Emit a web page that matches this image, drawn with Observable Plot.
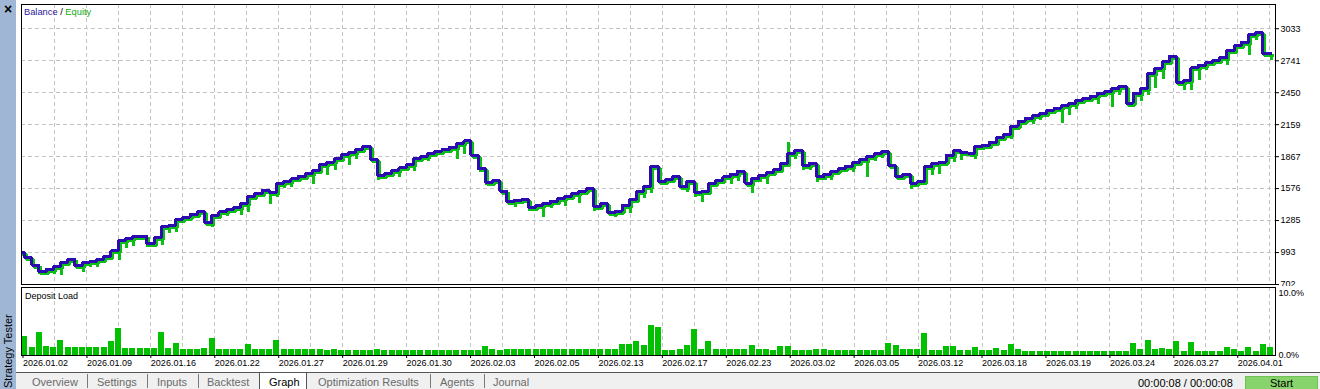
<!DOCTYPE html>
<html>
<head>
<meta charset="utf-8">
<script src="https://cdn.jsdelivr.net/npm/d3@7"></script>
<script src="https://cdn.jsdelivr.net/npm/@observablehq/plot@0.6"></script>
<style>
  html, body { margin: 0; padding: 0; }
  body { width: 1320px; height: 389px; overflow: hidden; background: #fff; position: relative;
         font-family: "Liberation Sans", Arial, sans-serif; color: #000; }
  #side { position: absolute; left: 0; top: 0; width: 16px; height: 389px; background: #9fb7d5; z-index: 10; overflow: hidden; }
  #close { position: absolute; left: 1px; top: 0px; width: 14px; text-align: center; font-size: 14px; font-weight: bold; line-height: 18px; }
  #st { position: absolute; left: 2px; top: 388px; transform-origin: 0 0; transform: rotate(-90deg);
        font-size: 11px; white-space: nowrap; line-height: 12px; }
  #main { position: absolute; left: 0; top: 0; }
  #dep { position: absolute; left: 0; top: 286px; }
  #legend { position: absolute; left: 24px; top: 6px; font-size: 9.3px; line-height: 12px; white-space: nowrap; }
  #deplabel { position: absolute; left: 25px; top: 290px; font-size: 9px; line-height: 12px; }
  #tabs { position: absolute; left: 16px; top: 372px; width: 1304px; height: 17px; background: #f0f0f0;
          border-top: 1px solid #555; box-sizing: border-box; }
  .t { position: absolute; top: 2px; font-size: 11px; color: #6a6a6a; white-space: nowrap; line-height: 14px; }
  .sep { position: absolute; top: 1px; width: 1px; height: 14px; background: #7a7a7a; }
  #graphTab { position: absolute; left: 243px; top: -1px; width: 48px; height: 17px; background: #fff;
              border-left: 1px solid #555; border-right: 1px solid #555; border-top: 1px solid #555; box-sizing: border-box; }
  #graphTab span { position: absolute; left: 9px; top: 2px; font-size: 11px; color: #000; line-height: 14px; }
  #timer { position: absolute; left: 1122px; top: 3px; font-size: 11px; color: #000; white-space: nowrap; line-height: 14px; }
  #start { position: absolute; left: 1229px; top: 3px; width: 73px; height: 14px; background: #88d46c;
           border: 1px solid #70c056; box-sizing: border-box; text-align: center; font-size: 11px; line-height: 13px; }
</style>
</head>
<body>
<div id="side"><div id="close">×</div><div id="st">Strategy Tester</div></div>
<div id="main"></div>
<div id="dep"></div>
<div id="legend"><span style="color:#2a169c">Balance</span> / <span style="color:#10a810">Equity</span></div>
<div id="deplabel">Deposit Load</div>
<div id="tabs">
  <span class="t" style="left:16px">Overview</span>
  <div class="sep" style="left:71px"></div>
  <span class="t" style="left:81px">Settings</span>
  <div class="sep" style="left:131px"></div>
  <span class="t" style="left:141px">Inputs</span>
  <div class="sep" style="left:182px"></div>
  <span class="t" style="left:191px">Backtest</span>
  <div id="graphTab"><span>Graph</span></div>
  <span class="t" style="left:302px">Optimization Results</span>
  <div class="sep" style="left:414px"></div>
  <span class="t" style="left:424px">Agents</span>
  <div class="sep" style="left:468px"></div>
  <span class="t" style="left:477px">Journal</span>
  <span id="timer">00:00:08 / 00:00:08</span>
  <div id="start">Start</div>
</div>
<script>
// ---- data ----
const balance = [
  993, 944, 878, 820, 841, 862, 902, 932, 871, 899,
  914, 932, 957, 1008, 1099, 1117, 1142, 1142, 1075, 1130,
  1227, 1242, 1297, 1315, 1342, 1363, 1263, 1333, 1363, 1385,
  1403, 1440, 1506, 1531, 1561, 1545, 1622, 1643, 1667, 1688,
  1713, 1743, 1797, 1818, 1849, 1886, 1909, 1934, 1964, 1843,
  1697, 1718, 1743, 1767, 1795, 1849, 1870, 1895, 1916, 1934,
  1955, 1986, 2010, 1879, 1758, 1636, 1652, 1554, 1454, 1470,
  1476, 1403, 1424, 1440, 1461, 1485, 1506, 1531, 1554, 1576,
  1415, 1440, 1354, 1370, 1424, 1479, 1552, 1597, 1782, 1643,
  1661, 1688, 1591, 1643, 1540, 1552, 1627, 1652, 1682, 1706,
  1736, 1627, 1667, 1697, 1722, 1749, 1804, 1900, 1925, 1788,
  1809, 1682, 1706, 1734, 1758, 1782, 1813, 1840, 1870, 1895,
  1916, 1788, 1688, 1706, 1627, 1643, 1773, 1804, 1818, 1879,
  1919, 1905, 1900, 1960, 1970, 2000, 2046, 2071, 2143, 2192,
  2219, 2244, 2265, 2289, 2310, 2335, 2356, 2380, 2398, 2419,
  2447, 2462, 2487, 2508, 2356, 2447, 2487, 2629, 2674, 2735,
  2783, 2547, 2562, 2678, 2699, 2723, 2744, 2769, 2835, 2881,
  2911, 2981, 2997, 2805
];
// [trade index, equity extreme during that trade]
const equityDips = [
  [2, 811], [4, 808], [5, 802], [8, 832], [9, 878], [10, 878], [13, 939], [14, 1044],
  [15, 1066], [17, 1060], [19, 1075], [20, 1181], [21, 1196], [26, 1242], [28, 1342],
  [30, 1349], [31, 1372], [34, 1445], [35, 1515], [36, 1591], [37, 1606], [40, 1636],
  [42, 1713], [43, 1755], [45, 1804], [46, 1858], [49, 1667], [52, 1697], [54, 1750],
  [56, 1840], [60, 1860], [61, 1909], [63, 1833], [64, 1622], [66, 1606], [68, 1424],
  [70, 1388], [72, 1333], [73, 1409], [75, 1430], [77, 1454], [79, 1388], [82, 1333],
  [84, 1370], [86, 1500], [87, 1552], [92, 1561], [93, 1515], [94, 1464], [98, 1636],
  [99, 1658], [101, 1554], [103, 1636], [106, 2016], [107, 1864], [108, 1758], [109, 1758],
  [110, 1652], [112, 1667], [115, 1743], [117, 1697], [118, 1840], [119, 1870], [122, 1667],
  [123, 1585], [126, 1718], [127, 1727], [129, 1834], [130, 1849], [132, 1858], [137, 2046],
  [140, 2183], [141, 2213], [144, 2192], [145, 2259], [146, 2314], [149, 2365], [151, 2335],
  [152, 2447], [155, 2386], [156, 2441], [157, 2508], [158, 2587], [161, 2487], [162, 2492],
  [163, 2578], [164, 2669], [167, 2720], [170, 2811], [171, 2942], [173, 2760]
];
const depositLoad = [
  3.1, 1.3, 3.7, 1.4, 1.3, 2.5, 1.3, 1.3, 1.3, 1.3,
  1.3, 1.3, 2.3, 4.3, 1.1, 1.1, 1.1, 1.1, 1.1, 3.7,
  1.1, 1.9, 1.0, 1.0, 1.0, 1.1, 2.7, 1.0, 1.0, 1.0,
  1.0, 1.8, 1.0, 1.0, 1.0, 2.4, 1.0, 1.0, 1.0, 1.0,
  1.0, 0.9, 0.8, 0.9, 0.8, 0.8, 0.8, 0.8, 0.8, 0.9,
  0.8, 0.8, 0.8, 0.8, 0.8, 0.8, 0.8, 0.8, 0.8, 0.8,
  0.8, 0.8, 0.8, 0.8, 1.5, 0.9, 0.8, 1.0, 1.0, 1.0,
  1.0, 1.0, 1.0, 1.0, 1.0, 1.0, 1.0, 1.0, 1.0, 1.0,
  1.0, 1.0, 1.0, 1.8, 1.8, 2.3, 1.6, 4.9, 4.5, 0.8,
  0.8, 0.9, 1.6, 4.2, 1.0, 2.3, 1.0, 1.0, 1.0, 0.9,
  0.9, 1.6, 1.0, 1.0, 0.8, 1.4, 1.4, 0.8, 0.8, 0.8,
  0.9, 1.0, 0.8, 0.8, 0.8, 0.8, 0.8, 0.8, 0.8, 0.8,
  2.0, 1.6, 1.0, 1.0, 1.0, 3.5, 0.8, 0.8, 1.4, 1.4,
  0.8, 0.8, 1.3, 0.8, 0.8, 1.1, 0.8, 1.8, 1.0, 0.65,
  0.65, 0.65, 0.65, 0.65, 0.65, 0.65, 0.65, 0.65, 0.65, 0.65,
  0.65, 0.65, 0.65, 0.65, 1.9, 1.0, 2.5, 1.0, 1.1, 1.0,
  2.3, 0.65, 2.1, 0.65, 0.65, 0.65, 0.65, 1.3, 1.0, 0.65,
  1.3, 0.65, 1.7, 1.3
];
const yTicks = [702, 993, 1285, 1576, 1867, 2159, 2450, 2741, 3033];
const depositTicks = [0, 10];
const dateLabels = [
  "2026.01.02", "2026.01.09", "2026.01.16", "2026.01.22", "2026.01.27",
  "2026.01.29", "2026.01.30", "2026.02.03", "2026.02.05", "2026.02.13",
  "2026.02.17", "2026.02.23", "2026.03.02", "2026.03.05", "2026.03.12",
  "2026.03.18", "2026.03.19", "2026.03.24", "2026.03.27", "2026.04.01"
];

// ---- layout constants ----
const BLUE = "#2c0cb0", GREEN = "#0cbf14", BAR = "#00c000", GRID = "#c4c4c4";
const FONT = "Liberation Sans, Arial, sans-serif";
const xDomain = [0.583, 174.75];       // trade index visible range
const gridStart = 0.79, gridStep = 4.44; // trades per grid division
const gridPositions = d3.range(1, 40).map(m => gridStart + gridStep * m);
const labelPositions = dateLabels.map((_, n) => gridStart + gridStep * 2 * n);
const labelMap = new Map(labelPositions.map((p, n) => [p, dateLabels[n]]));

const balPts = balance.map((v, i) => ({i, v}));
balPts.push({i: balance.length, v: balance[balance.length - 1]});

const main = Plot.plot({
  width: 1320, height: 286,
  marginLeft: 21, marginRight: 45, marginTop: 4, marginBottom: 2,
  style: {fontFamily: FONT, fontSize: "9px", background: "transparent", overflow: "visible", color: "#000"},
  x: {domain: xDomain, axis: null},
  y: {domain: [702, 3254], axis: null},
  marks: [
    Plot.gridY(yTicks.slice(1), {stroke: GRID, strokeOpacity: 1, strokeDasharray: "4,3", shapeRendering: "crispEdges"}),
    Plot.gridX(gridPositions, {stroke: GRID, strokeOpacity: 1, strokeDasharray: "4,3", shapeRendering: "crispEdges"}),
    Plot.line(balPts, {x: "i", y: "v", curve: "step-after", stroke: GREEN, strokeWidth: 3,
      strokeLinejoin: "miter", strokeLinecap: "square", dx: 2, dy: 2, clip: true, shapeRendering: "crispEdges"}),
    Plot.ruleX(equityDips, {x: d => d[0] + 0.85, y1: d => balance[d[0]], y2: d => d[1],
      stroke: GREEN, strokeWidth: 3, dx: 2, dy: 2, clip: true, shapeRendering: "crispEdges"}),
    Plot.line(balPts, {x: "i", y: "v", curve: "step-after", stroke: BLUE, strokeWidth: 3,
      strokeLinejoin: "miter", strokeLinecap: "square", clip: true, shapeRendering: "crispEdges"}),
    Plot.frame({stroke: "#000", shapeRendering: "crispEdges"}),
    Plot.axisY(yTicks, {anchor: "right", label: null, tickSize: 3, tickPadding: 2, fontSize: 9,
      tickFormat: d => String(d), stroke: "#000", fill: "#000"})
  ]
});
document.getElementById("main").appendChild(main);

const dep = Plot.plot({
  width: 1320, height: 84,
  marginLeft: 21, marginRight: 45, marginTop: 1, marginBottom: 15,
  style: {fontFamily: FONT, fontSize: "9px", background: "#fff", overflow: "visible", color: "#000"},
  x: {domain: xDomain, axis: null},
  y: {domain: [0, 10.97], axis: null},
  marks: [
    Plot.gridX(gridPositions, {stroke: GRID, strokeOpacity: 1, strokeDasharray: "4,3", shapeRendering: "crispEdges"}),
    Plot.rectY(depositLoad, {x1: (d, i) => i + 0.64, x2: (d, i) => i + 1.48, y1: 0, y2: d => d,
      fill: BAR, shapeRendering: "crispEdges"}),
    Plot.frame({stroke: "#000", shapeRendering: "crispEdges"}),
    Plot.axisY(depositTicks, {anchor: "right", label: null, tickSize: 0, tickPadding: 3, fontSize: 9,
      tickFormat: d => d.toFixed(1) + "%", fill: "#000"}),
    Plot.axisX(labelPositions, {anchor: "bottom", label: null, tickSize: 3, tickPadding: 1, fontSize: 9,
      textAnchor: "start", dx: 0, tickFormat: d => labelMap.get(d), stroke: "#000", fill: "#000"})
  ]
});
document.getElementById("dep").appendChild(dep);
</script>
</body>
</html>
